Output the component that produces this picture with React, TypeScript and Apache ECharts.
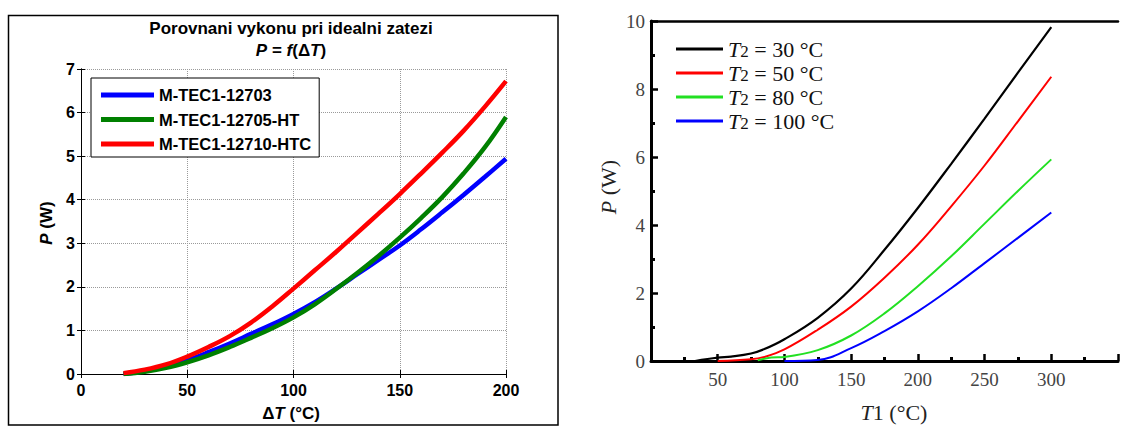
import React, { useEffect, useRef } from 'react';
import * as echarts from 'echarts';

// ---- Left chart: P = f(ΔT) ----
const dT = [20, 30, 40, 50, 60, 70, 80, 90, 100, 110, 120, 130, 140, 150, 160, 170, 180, 190, 200];
const p12703 = [0.0, 0.07, 0.18, 0.32, 0.5, 0.7, 0.92, 1.14, 1.38, 1.65, 1.96, 2.29, 2.62, 2.95, 3.32, 3.71, 4.11, 4.52, 4.94];
const p12705 = [0.0, 0.05, 0.14, 0.27, 0.43, 0.62, 0.83, 1.05, 1.3, 1.6, 1.95, 2.32, 2.71, 3.13, 3.58, 4.06, 4.6, 5.2, 5.9];
const p12710 = [0.02, 0.1, 0.22, 0.4, 0.62, 0.87, 1.18, 1.55, 1.96, 2.38, 2.8, 3.24, 3.68, 4.13, 4.6, 5.08, 5.58, 6.13, 6.72];
const leftNames = ['M-TEC1-12703', 'M-TEC1-12705-HT', 'M-TEC1-12710-HTC'];
const leftColors = ['#0000ff', '#008000', '#ff0000'];

// ---- Right chart: P vs T1 for several T2 ----
const t2Values = ['30', '50', '80', '100'];
const t1Black = [33, 50, 60, 75, 85, 100, 125, 150, 175, 200, 225, 250, 275, 300];
const pBlack = [0, 0.1, 0.13, 0.22, 0.35, 0.64, 1.27, 2.13, 3.27, 4.5, 5.8, 7.13, 8.48, 9.82];
const t1Red = [50, 75, 85, 100, 125, 150, 175, 200, 225, 250, 275, 300];
const pRed = [0, 0.05, 0.12, 0.34, 0.92, 1.6, 2.45, 3.42, 4.55, 5.75, 7.05, 8.36];
const t1Green = [80, 90, 100, 125, 150, 175, 200, 225, 250, 275, 300];
const pGreen = [0.02, 0.1, 0.12, 0.32, 0.75, 1.4, 2.2, 3.08, 4.04, 5.0, 5.93];
const t1Blue = [100, 125, 150, 175, 200, 225, 250, 275, 300];
const pBlue = [0, 0.03, 0.38, 0.88, 1.46, 2.14, 2.88, 3.62, 4.37];
const rightColors = ['#000000', '#ff0000', '#22e022', '#0000ff'];

const zip = (xs: number[], ys: number[]) => xs.map((x, i) => [x, ys[i]]);

const SANS = 'Liberation Sans, Arial, sans-serif';
const SERIF = 'Liberation Serif, Times New Roman, serif';

export default function App() {
  const ref = useRef<HTMLDivElement>(null);
  useEffect(() => {
    if (!ref.current) return;
    const chart = echarts.init(ref.current, null, { renderer: 'svg' });
    const rightNames = t2Values.map((v) => `T2 = ${v} °C`);
    const rightData = [zip(t1Black, pBlack), zip(t1Red, pRed), zip(t1Green, pGreen), zip(t1Blue, pBlue)];
    const leftData = [p12703, p12705, p12710].map((ys) => zip(dT, ys));

    const leftAxisCommon = {
      type: 'value' as const,
      gridIndex: 0,
      axisLine: { show: true, lineStyle: { color: '#000', width: 1 } },
      axisTick: { show: true, inside: true, length: 4, lineStyle: { color: '#000', width: 1 } },
    };
    const rightTick = { show: true, inside: true, length: 7, lineStyle: { color: '#000', width: 2.5 } };
    const rightMinor = { show: true, splitNumber: 2, length: 4, lineStyle: { color: '#000', width: 3 } };
    const option: any = {
      animation: false,
      backgroundColor: '#fff',
      grid: [
        { left: 81, top: 69, width: 425, height: 305 },
        { left: 651, top: 21, width: 521.5, height: 340 },
      ],
      xAxis: [
        {
          ...leftAxisCommon,
          min: 0, max: 200, interval: 50, position: 'bottom',
          axisLabel: { color: '#000', fontFamily: SANS, fontWeight: 'bold', fontSize: 16, margin: 8 },
          splitLine: { show: true, lineStyle: { color: '#9a9a9a', type: 'dotted', width: 1 } },
        },
        {
          ...leftAxisCommon,
          min: 0, max: 200, interval: 50, position: 'top',
          axisLabel: { show: false }, splitLine: { show: false },
        },
        {
          type: 'value', gridIndex: 1, min: 0, max: 350, interval: 50, position: 'bottom',
          axisLine: { show: true, lineStyle: { color: '#000', width: 3 } },
          axisTick: rightTick,
          minorTick: rightMinor,
          axisLabel: {
            color: '#444', fontFamily: SERIF, fontSize: 19, margin: 9,
            formatter: (v: number) => (v === 0 || v > 300 ? '' : String(v)),
          },
          splitLine: { show: false },
        },
        {
          type: 'value', gridIndex: 1, min: 0, max: 350, interval: 50, position: 'top',
          axisLine: { show: true, lineStyle: { color: '#000', width: 2.5 } },
          axisTick: { show: false }, axisLabel: { show: false }, splitLine: { show: false },
        },
      ],
      yAxis: [
        {
          ...leftAxisCommon,
          min: 0, max: 7, interval: 1, position: 'left',
          axisLabel: { color: '#000', fontFamily: SANS, fontWeight: 'bold', fontSize: 16, margin: 6 },
          splitLine: { show: true, lineStyle: { color: '#9a9a9a', type: 'dotted', width: 1 } },
        },
        {
          ...leftAxisCommon,
          min: 0, max: 7, interval: 1, position: 'right',
          axisLabel: { show: false }, splitLine: { show: false },
        },
        {
          type: 'value', gridIndex: 1, min: 0, max: 10, interval: 2, position: 'left',
          axisLine: { show: true, lineStyle: { color: '#000', width: 3 } },
          axisTick: rightTick,
          minorTick: rightMinor,
          axisLabel: { color: '#444', fontFamily: SERIF, fontSize: 19, margin: 6 },
          splitLine: { show: false },
        },
      ],
      legend: [
        {
          data: leftNames,
          orient: 'vertical',
          left: 91, top: 78,
          padding: [7, 8, 3, 10],
          itemWidth: 53, itemHeight: 5, itemGap: 4.5,
          icon: 'rect',
          borderColor: '#000', borderWidth: 1, backgroundColor: '#fff',
          selectedMode: false,
          textStyle: { color: '#000', fontFamily: SANS, fontWeight: 'bold', fontSize: 16.5, lineHeight: 20 },
        },
        {
          data: rightNames,
          orient: 'vertical',
          left: 676, top: 38,
          padding: 0,
          itemWidth: 47, itemHeight: 3, itemGap: 2,
          icon: 'rect',
          selectedMode: false,
          formatter: (name: string) => {
            const v = name.replace('T2 = ', '').replace(' °C', '');
            return `{i|T}{s|2}{n| = ${v} °C}`;
          },
          textStyle: {
            color: '#111', fontFamily: SERIF, fontSize: 22, lineHeight: 22,
            rich: {
              i: { fontFamily: SERIF, fontStyle: 'italic', fontSize: 22, color: '#111' },
              s: { fontFamily: SERIF, fontSize: 17, color: '#111', padding: [5, 0, 0, 0] },
              n: { fontFamily: SERIF, fontSize: 22, color: '#111' },
            },
          },
        },
      ],
      series: [
        ...leftData.map((d, i) => ({
          type: 'line', name: leftNames[i], xAxisIndex: 0, yAxisIndex: 0,
          data: d, smooth: 0.4, showSymbol: false, symbol: 'none',
          color: leftColors[i],
          lineStyle: { color: leftColors[i], width: 4.5 },
        })),
        ...rightData.map((d, i) => ({
          type: 'line', name: rightNames[i], xAxisIndex: 2, yAxisIndex: 2,
          data: d, smooth: 0.4, showSymbol: false, symbol: 'none',
          color: rightColors[i],
          lineStyle: { color: rightColors[i], width: i === 0 ? 2.2 : 2 },
        })),
      ],
      graphic: [
        {
          type: 'rect', silent: true,
          shape: { x: 8.5, y: 15.5, width: 549.5, height: 409.5 },
          style: { fill: 'none', stroke: '#000', lineWidth: 1.5 },
        },
        {
          type: 'text', x: 291, y: 28,
          style: {
            text: 'Porovnani vykonu pri idealni zatezi', align: 'center', verticalAlign: 'middle',
            fontFamily: SANS, fontWeight: 'bold', fontSize: 17, fill: '#000',
          },
        },
        {
          type: 'text', x: 291, y: 50,
          style: {
            text: '{i|P}{b| = }{i|f}{b|(Δ}{i|T}{b|)}', align: 'center', verticalAlign: 'middle',
            fontFamily: SANS, fontWeight: 'bold', fontSize: 17, fill: '#000',
            rich: {
              i: { fontFamily: SANS, fontWeight: 'bold', fontStyle: 'italic', fontSize: 17, fill: '#000' },
              b: { fontFamily: SANS, fontWeight: 'bold', fontSize: 17, fill: '#000' },
            },
          },
        },
        {
          type: 'text', x: 291, y: 413,
          style: {
            text: '{b|Δ}{i|T}{b| (°C)}', align: 'center', verticalAlign: 'middle',
            fontFamily: SANS, fontWeight: 'bold', fontSize: 17, fill: '#000',
            rich: {
              i: { fontFamily: SANS, fontWeight: 'bold', fontStyle: 'italic', fontSize: 17, fill: '#000' },
              b: { fontFamily: SANS, fontWeight: 'bold', fontSize: 17, fill: '#000' },
            },
          },
        },
        {
          type: 'text', x: 46.5, y: 223, rotation: Math.PI / 2,
          style: {
            text: '{i|P}{b| (W)}', align: 'center', verticalAlign: 'middle',
            fontFamily: SANS, fontWeight: 'bold', fontSize: 17, fill: '#000',
            rich: {
              i: { fontFamily: SANS, fontWeight: 'bold', fontStyle: 'italic', fontSize: 17, fill: '#000' },
              b: { fontFamily: SANS, fontWeight: 'bold', fontSize: 17, fill: '#000' },
            },
          },
        },
        {
          type: 'text', x: 894, y: 412,
          style: {
            text: '{i|T}{n|1 (°C)}', align: 'center', verticalAlign: 'middle',
            fontFamily: SERIF, fontSize: 22, fill: '#222',
            rich: {
              i: { fontFamily: SERIF, fontStyle: 'italic', fontSize: 22, fill: '#222' },
              n: { fontFamily: SERIF, fontSize: 22, fill: '#222' },
            },
          },
        },
        {
          type: 'text', x: 608, y: 187, rotation: Math.PI / 2,
          style: {
            text: '{i|P}{n| (W)}', align: 'center', verticalAlign: 'middle',
            fontFamily: SERIF, fontSize: 22, fill: '#222',
            rich: {
              i: { fontFamily: SERIF, fontStyle: 'italic', fontSize: 22, fill: '#222' },
              n: { fontFamily: SERIF, fontSize: 22, fill: '#222' },
            },
          },
        },
      ],
    };
    chart.setOption(option);
    return () => chart.dispose();
  }, []);
  return (
    <div
      ref={ref}
      style={{ position: 'fixed', left: 0, top: 0, width: 1121, height: 426, background: '#fff' }}
    />
  );
}
